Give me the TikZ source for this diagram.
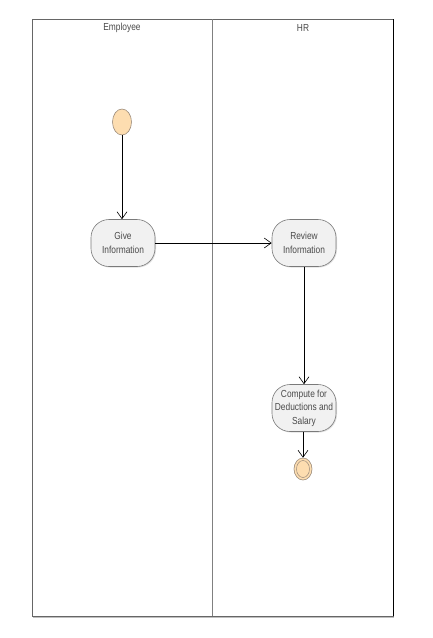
\documentclass[tikz,border=0pt]{standalone}
\usepackage{fontspec}
\setmainfont{Liberation Sans}
\newfontfamily\lanefont[FakeStretch=0.82]{Liberation Sans}
\usetikzlibrary{arrows.meta,shadows,shapes.geometric}
\definecolor{txtgray}{HTML}{4A4A4A}
\definecolor{actfill}{HTML}{F1F1F1}
\definecolor{actdraw}{HTML}{7A7A7A}
\definecolor{startfill}{HTML}{FDDDB0}
\definecolor{startdraw}{HTML}{9C8C7C}
\begin{document}
\begin{tikzpicture}[x=1pt,y=-1pt,
  lbl/.style={font=\lanefont\fontsize{10.2}{13.5}\selectfont,text=txtgray,align=center},
  activity/.style={lbl,draw=actdraw,fill=actfill,rounded corners=18pt,
    minimum width=64pt,minimum height=47pt,inner sep=1pt,line width=0.6pt,
    drop shadow={shadow xshift=1pt,shadow yshift=-1pt,opacity=0.25}},
  startnode/.style={ellipse,draw=startdraw,fill=startfill,minimum width=19pt,
    minimum height=26pt,inner sep=0pt,line width=0.6pt},
  flow/.style={draw=black,line width=0.6pt,-{Straight Barb[length=7pt,width=10pt,line width=0.6pt]}}]
  \useasboundingbox (0,0) rectangle (432,638);
  % swimlane frame
  \fill[black!25] (33,20) rectangle (394,618);
  \fill[white] (32,19) rectangle (393,616);
  \draw[black!60,line width=0.7pt] (32,19) rectangle (393,616);
  \draw[black,line width=0.8pt] (393,19) -- (393,616);
  \draw[black!50,line width=0.6pt] (212,19) -- (212,616);
  \node[lbl] (laneA) at (122,28) {Employee};
  \node[lbl] (laneB) at (303,28) {HR};
  % activities
  \node[startnode] (start) at (122,122) {};
  \node[activity] (give) at (123,243) {Give\\Information};
  \node[activity] (review) at (304,243) {Review\\Information};
  \node[activity] (compute) at (304,408) {Compute for\\Deductions and\\Salary};
  \node[ellipse,draw=startdraw,fill=startfill,minimum width=18pt,minimum height=22pt,
    inner sep=0pt,line width=0.6pt] (final) at (303,469) {};
  \node[ellipse,draw=startdraw,minimum width=13pt,minimum height=17pt,inner sep=0pt,
    line width=0.5pt] (finalin) at (303,469) {};
  % control flow
  \draw[flow] (start) -- (start |- give.north);
  \draw[flow] (give) -- (review);
  \draw[flow] (review.south) -- (review.south |- compute.north);
  \draw[flow] (compute.south -| final) -- (final.north);
\end{tikzpicture}
\end{document}
